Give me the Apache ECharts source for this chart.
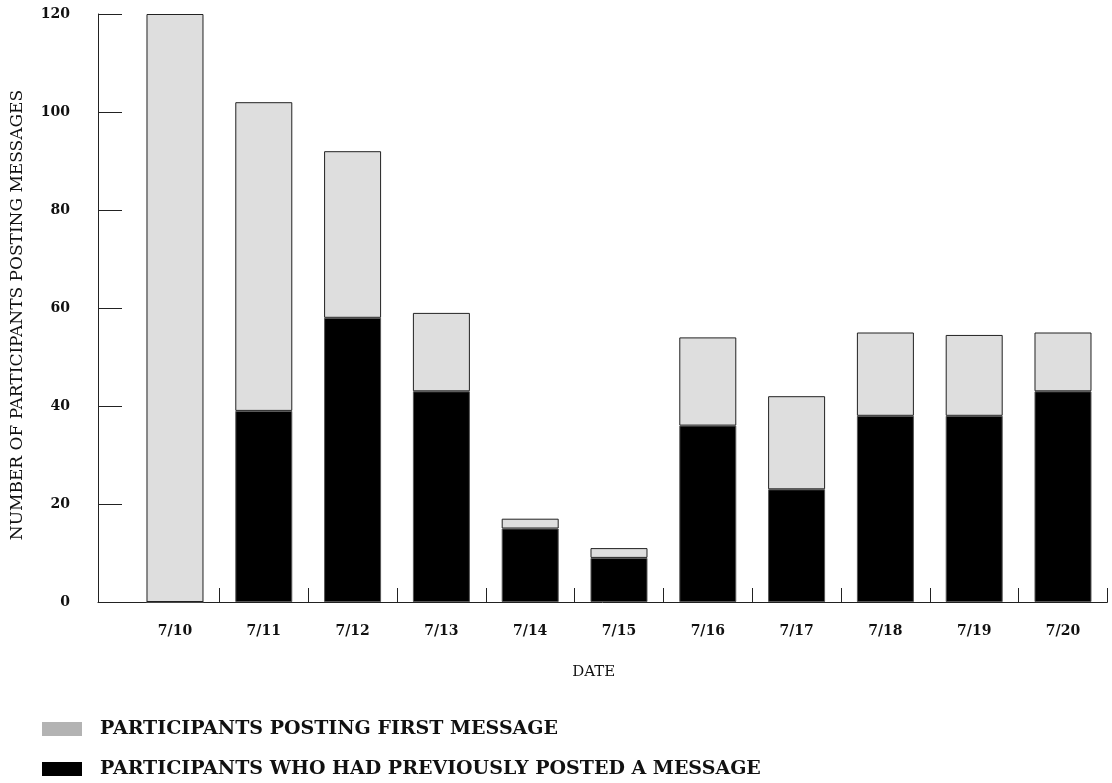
<!DOCTYPE html>
<html>
<head>
<meta charset="utf-8">
<script src="https://cdn.jsdelivr.net/npm/echarts@6/dist/echarts.min.js"></script>
<style>
html,body{margin:0;padding:0;background:#fff;}
#chart{width:1112px;height:783px;}
</style>
</head>
<body>
<div id="chart"></div>
<script>
const dates = ['7/10','7/11','7/12','7/13','7/14','7/15','7/16','7/17','7/18','7/19','7/20'];
const previousPosters = [0, 39, 58, 43, 15, 9, 36, 23, 38, 38, 43];
const firstPosters = [120, 63, 34, 16, 2, 2, 18, 19, 17, 16.5, 12];
const yTicks = [0, 20, 40, 60, 80, 100, 120];
const seriesNames = ['PARTICIPANTS POSTING FIRST MESSAGE', 'PARTICIPANTS WHO HAD PREVIOUSLY POSTED A MESSAGE'];

const idx = dates.map((d, i) => i);
const boundaries = dates.map((d, i) => i + 0.5);

const chart = echarts.init(document.getElementById('chart'), null, {renderer: 'canvas'});
const serifBold = {fontFamily: 'DejaVu Serif', fontWeight: 'bold', color: '#111'};

chart.setOption({
  animation: false,
  backgroundColor: '#fff',
  grid: {left: 98, right: 4.6, top: 14, bottom: 181},
  legend: {
    orient: 'vertical',
    left: 42,
    top: 719,
    height: 80,
    icon: 'rect',
    itemWidth: 40,
    itemHeight: 14,
    itemGap: 20,
    padding: 0,
    selectedMode: false,
    textStyle: Object.assign({fontSize: 19, lineHeight: 20, padding: [0, 0, 0, 13]}, serifBold),
    data: [
      {name: seriesNames[0], itemStyle: {color: '#b3b3b3', borderWidth: 0}},
      {name: seriesNames[1], itemStyle: {color: '#000', borderWidth: 0}}
    ]
  },
  xAxis: {
    type: 'value',
    min: -0.867,
    max: dates.length - 0.5,
    splitLine: {show: false},
    axisLine: {show: true, onZero: false, lineStyle: {color: '#222', width: 1}},
    axisTick: {show: true, inside: true, length: 14, customValues: boundaries, lineStyle: {color: '#222'}},
    axisLabel: Object.assign({
      fontSize: 14, margin: 22, customValues: idx,
      formatter: v => dates[Math.round(v)]
    }, serifBold),
    name: 'DATE',
    nameLocation: 'middle',
    nameGap: 63,
    nameTextStyle: {fontFamily: 'DejaVu Serif', fontSize: 15, color: '#111', padding: [0, 18, 0, 0]}
  },
  yAxis: {
    type: 'value',
    min: 0,
    max: 120,
    interval: 20,
    splitLine: {show: false},
    axisLine: {show: true, onZero: false, lineStyle: {color: '#222', width: 1}},
    axisTick: {show: true, inside: true, length: 24, lineStyle: {color: '#222'}},
    axisLabel: Object.assign({fontSize: 14, margin: 28, customValues: yTicks}, serifBold),
    name: 'NUMBER OF PARTICIPANTS POSTING MESSAGES',
    nameLocation: 'middle',
    nameRotate: 90,
    nameGap: 72,
    nameTextStyle: {fontFamily: 'DejaVu Serif', fontSize: 17, color: '#111', padding: [0, 14, 0, 0]}
  },
  series: [
    {
      name: seriesNames[1],
      type: 'bar',
      stack: 'total',
      barWidth: 57,
      encode: {x: 1, y: 0},
      data: idx.map(i => [previousPosters[i], i]),
      itemStyle: {color: '#000', borderColor: '#555', borderWidth: 1}
    },
    {
      name: seriesNames[0],
      type: 'bar',
      stack: 'total',
      barWidth: 57,
      encode: {x: 1, y: 0},
      data: idx.map(i => [firstPosters[i], i]),
      itemStyle: {color: '#dedede', borderColor: '#222', borderWidth: 1}
    }
  ]
});
</script>
</body>
</html>
